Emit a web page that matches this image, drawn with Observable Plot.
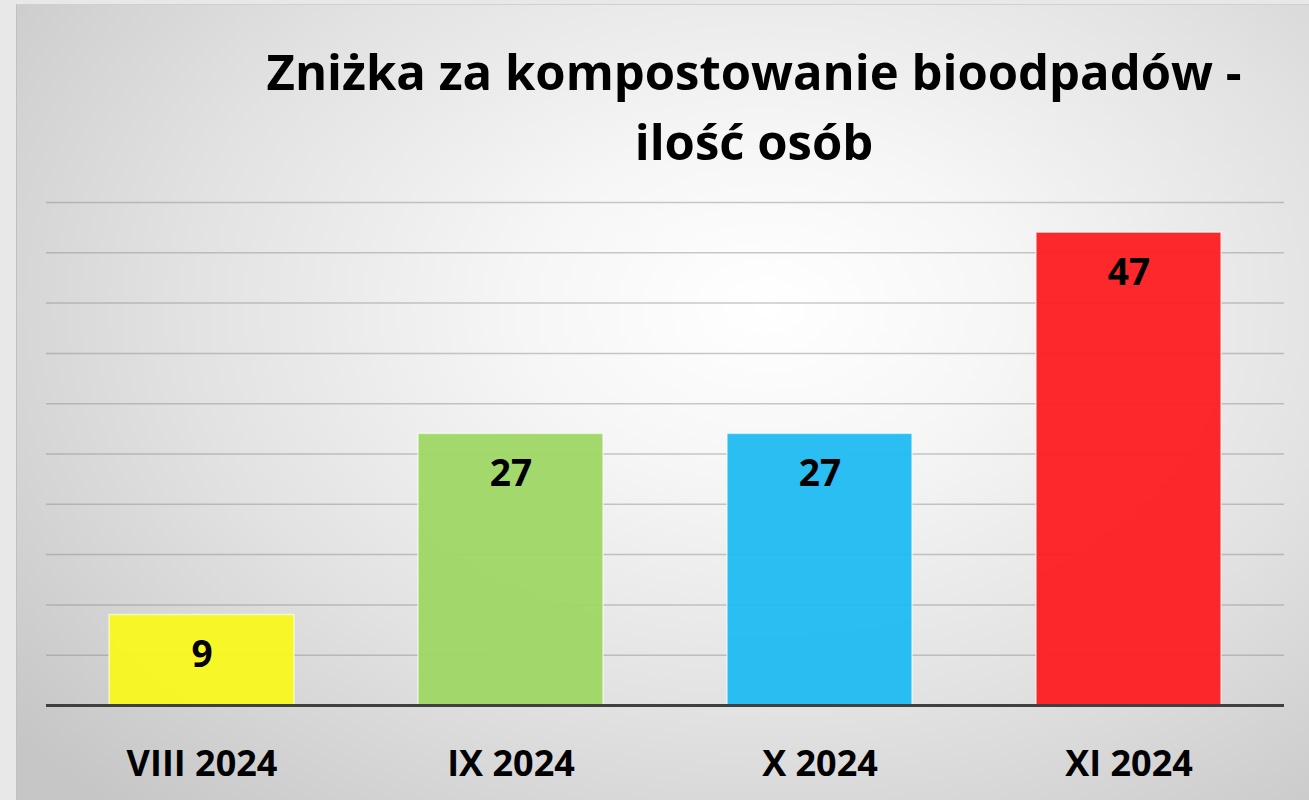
<!DOCTYPE html>
<html>
<head>
<meta charset="utf-8">
<script src="https://cdn.jsdelivr.net/npm/d3@7"></script>
<script src="https://cdn.jsdelivr.net/npm/@observablehq/plot@0.6"></script>
<style>
  html, body { margin: 0; padding: 0; background: #e8e8e8; }
  #frame { position: relative; width: 1309px; height: 800px; overflow: hidden; background: #e8e8e8; }
  #panel {
    position: absolute; left: 16px; top: 4px; width: 1293px; height: 796px;
    background: radial-gradient(ellipse 75% 85% at 58% 38%, #ffffff 0%, #f6f6f6 25%, #e2e2e2 60%, #c6c6c6 100%);
    border-left: 1px solid #c0c0c0; border-top: 1px solid #d0d0d0; box-sizing: border-box;
  }
  #title {
    position: absolute; left: 254px; width: 1000px; top: 36px;
    text-align: center; font-family: "Open Sans", sans-serif; font-weight: 700;
    font-size: 49px; line-height: 70px; color: #000; white-space: nowrap;
  }
  #chart { position: absolute; left: 0; top: 190px; }
</style>
</head>
<body>
<div id="frame">
  <div id="panel"></div>
  <div id="title">Zniżka za kompostowanie bioodpadów -<br>ilość osób</div>
  <div id="chart"></div>
</div>
<script>
const months = ["VIII 2024", "IX 2024", "X 2024", "XI 2024"];
const counts = [9, 27, 27, 47];
const barColors = ["#f8f820", "#9fd766", "#22bbf1", "#fc1f22"];
const gridTicks = [5, 10, 15, 20, 25, 30, 35, 40, 45, 50];

const data = months.map((m, i) => ({month: m, value: counts[i], color: barColors[i]}));

const chart = Plot.plot({
  width: 1309,
  height: 610,
  marginTop: 12,
  marginBottom: 95,
  marginLeft: 46,
  marginRight: 25,
  style: {background: "transparent", fontFamily: "Open Sans, sans-serif", overflow: "visible"},
  x: {domain: months, paddingInner: 0.4, paddingOuter: 0.2, label: null},
  y: {domain: [0, 50], label: null, axis: null},
  marks: [
    Plot.ruleY(gridTicks, {stroke: "#8a8a8a", strokeOpacity: 0.45, strokeWidth: 1.5}),
    Plot.barY(data, {x: "month", y: "value", fill: "color", fillOpacity: 0.96, stroke: "#ffffff", strokeOpacity: 0.6, strokeWidth: 1.5}),
    Plot.ruleY([0], {stroke: "#404040", strokeWidth: 3}),
    Plot.text(data, {x: "month", y: "value", text: d => String(d.value), dy: 40, fontSize: 37, fontWeight: 700, fill: "#000"}),
    Plot.axisX({tickSize: 0, tickPadding: 45, fontSize: 36, fontWeight: 700, color: "#000", label: null})
  ]
});
document.getElementById("chart").appendChild(chart);
</script>
</body>
</html>
